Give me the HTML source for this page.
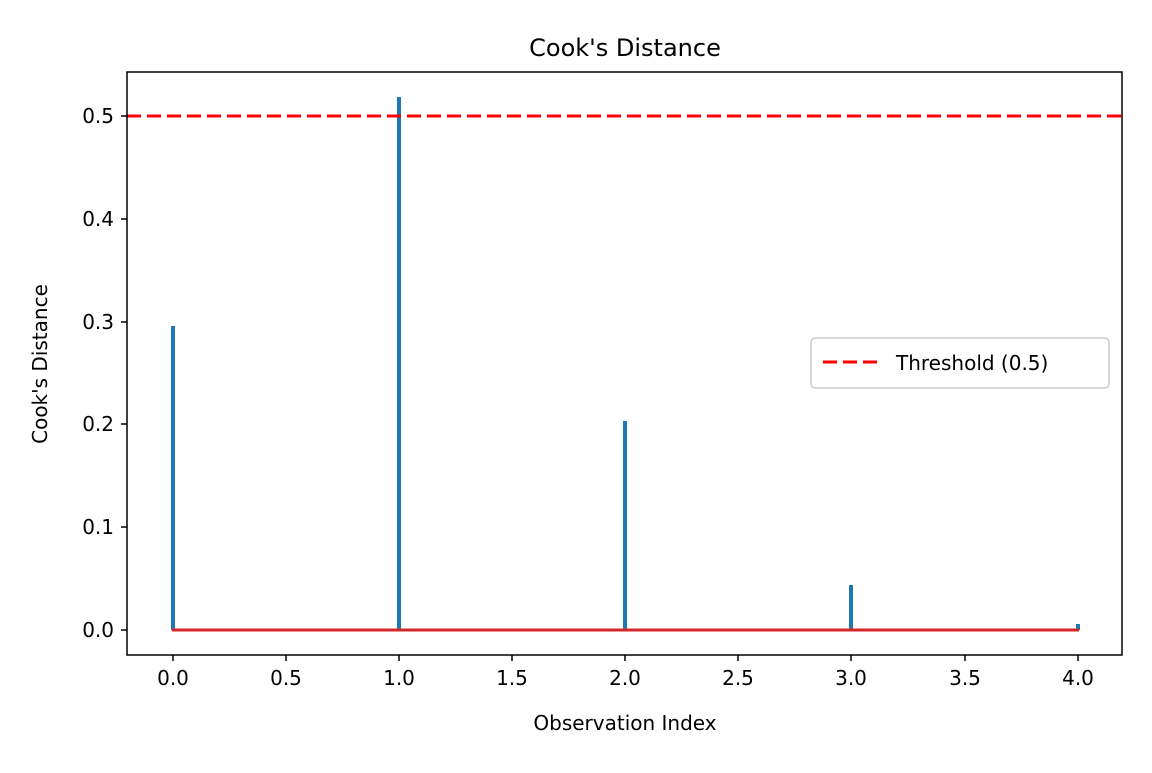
<!DOCTYPE html>
<html><head><style>body{margin:0;background:#fff}</style></head><body>
<svg width="1152" height="768" xmlns="http://www.w3.org/2000/svg" font-family="'DejaVu Sans', 'Liberation Sans', sans-serif">
<rect width="1152" height="768" fill="#fff"/>
<g stroke="#1f77b4" stroke-width="4">
<line x1="173" y1="630" x2="173" y2="326"/>
<line x1="399" y1="630" x2="399" y2="97"/>
<line x1="625" y1="630" x2="625" y2="421"/>
<line x1="851" y1="630" x2="851" y2="585"/>
<line x1="1078" y1="630" x2="1078" y2="624"/>
</g>
<line x1="172" y1="630" x2="1079" y2="630" stroke="#d62728" stroke-width="3"/>
<line x1="127" y1="116" x2="1122" y2="116" stroke="#ff0000" stroke-width="3" stroke-dasharray="14,6"/>
<rect x="127" y="72" width="995" height="583" fill="none" stroke="#000" stroke-width="1.5"/>
<g stroke="#000" stroke-width="1.5">
<line x1="173" y1="655" x2="173" y2="661"/><line x1="286" y1="655" x2="286" y2="661"/>
<line x1="399" y1="655" x2="399" y2="661"/><line x1="512" y1="655" x2="512" y2="661"/>
<line x1="625" y1="655" x2="625" y2="661"/><line x1="738" y1="655" x2="738" y2="661"/>
<line x1="851" y1="655" x2="851" y2="661"/><line x1="965" y1="655" x2="965" y2="661"/>
<line x1="1078" y1="655" x2="1078" y2="661"/>
<line x1="121" y1="630" x2="127" y2="630"/><line x1="121" y1="527" x2="127" y2="527"/>
<line x1="121" y1="424" x2="127" y2="424"/><line x1="121" y1="322" x2="127" y2="322"/>
<line x1="121" y1="219" x2="127" y2="219"/><line x1="121" y1="116" x2="127" y2="116"/>
</g>
<g font-size="20" text-anchor="middle" fill="#000">
<text x="173" y="685">0.0</text><text x="286" y="685">0.5</text><text x="399" y="685">1.0</text>
<text x="512" y="685">1.5</text><text x="625" y="685">2.0</text><text x="738" y="685">2.5</text>
<text x="851" y="685">3.0</text><text x="965" y="685">3.5</text><text x="1078" y="685">4.0</text>
</g>
<g font-size="20" text-anchor="end" fill="#000">
<text x="114" y="637">0.0</text><text x="114" y="534">0.1</text><text x="114" y="431">0.2</text>
<text x="114" y="329">0.3</text><text x="114" y="226">0.4</text><text x="114" y="123">0.5</text>
</g>
<text x="625" y="730" font-size="20" text-anchor="middle">Observation Index</text>
<text x="0" y="0" font-size="20" text-anchor="middle" transform="translate(47,364) rotate(-90)">Cook's Distance</text>
<text x="625" y="56" font-size="24" text-anchor="middle">Cook's Distance</text>
<rect x="811" y="338" width="298" height="50" rx="4" fill="#fff" stroke="#ccc" stroke-width="1.5"/>
<line x1="823" y1="362" x2="880" y2="362" stroke="#ff0000" stroke-width="3" stroke-dasharray="14,6"/>
<text x="896" y="370" font-size="20">Threshold (0.5)</text>
</svg>
</body></html>
